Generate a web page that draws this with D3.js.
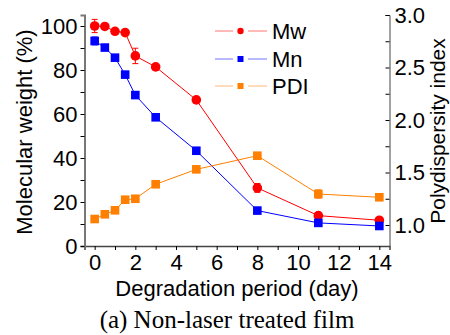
<!DOCTYPE html>
<html>
<head>
  <title>Degradation</title>
  <script src="https://d3js.org/d3.v7.min.js"></script>
  <style>
    body { margin: 0; background: #fff; }
    text { font-family: Arial, "Liberation Sans", sans-serif; fill: #000; }
  </style>
</head>
<body>
  <script>
    // degradation days
    const days = [0, 0.5, 1, 1.5, 2, 3, 5, 8, 11, 14];
    const mw = [100, 99.8, 97.6, 97.0, 86.4, 81.4, 66.4, 26.4, 13.8, 11.7];
    const mwErr = [3, 0, 0, 0.8, 3.5, 1, 0.8, 2, 0.8, 0.6];
    const mn = [93.2, 90.2, 85.6, 77.9, 68.6, 58.5, 43.3, 16.1, 10.5, 9.1];
    const mnErr = [1.8, 0, 0, 0, 0, 1, 0, 0, 0, 0];
    const pdi = [1.057, 1.102, 1.14, 1.241, 1.25, 1.388, 1.53, 1.66, 1.295, 1.264];
    const pdiErr = [0, 0, 0, 0, 0.03, 0, 0, 0.03, 0.04, 0.015];
    const xTicks = [0, 2, 4, 6, 8, 10, 12, 14];
    const leftTicks = [0, 20, 40, 60, 80, 100];
    const rightTicks = [1.0, 1.5, 2.0, 2.5, 3.0];

    const width = 450, height = 335;

    let x = d3.scaleLinear().domain([-0.5, 14.5]).range([84.5, 389.5]);
    let yL = d3.scaleLinear().domain([0, 105]).range([246, 15]);
    let yR = d3.scaleLinear().domain([0.8, 3.0]).range([246, 15]);

    let svg = d3.select("body").append("svg")
      .attr("width", width)
      .attr("height", height);

    // axes
    let xAxis = svg.append("g")
      .attr("transform", "translate(0,246)")
      .call(d3.axisBottom(x).tickValues(d3.range(0, 15, 1)).tickSize(4)
        .tickFormat(d => xTicks.includes(d) ? d : ""));
    xAxis.select(".domain").attr("stroke", "#444").attr("stroke-width", 1.5);
    xAxis.selectAll("text").attr("font-size", "22px").attr("dy", "0.71em").attr("y", 8);

    let lAxis = svg.append("g")
      .attr("transform", "translate(84.5,0)")
      .call(d3.axisLeft(yL).tickValues(d3.range(0, 101, 10)).tickSize(4)
        .tickFormat(d => leftTicks.includes(d) ? d : ""));
    lAxis.select(".domain").attr("stroke", "#777").attr("stroke-width", 2);
    lAxis.selectAll("text").attr("font-size", "22px").attr("x", -7);

    let rAxis = svg.append("g")
      .attr("transform", "translate(389.5,0)")
      .call(d3.axisRight(yR).tickValues([1.0, 1.25, 1.5, 1.75, 2.0, 2.25, 2.5, 2.75, 3.0]).tickSize(-4)
        .tickFormat(d => rightTicks.includes(d) ? d3.format(".1f")(d) : ""));
    rAxis.select(".domain").attr("stroke", "#444").attr("stroke-width", 1);
    rAxis.selectAll("text").attr("font-size", "22px").attr("x", 5);

    // titles
    svg.append("text")
      .attr("transform", "translate(32,132) rotate(-90)")
      .attr("text-anchor", "middle")
      .attr("font-size", "22px")
      .text("Molecular weight (%)");

    svg.append("text")
      .attr("transform", "translate(445,131) rotate(-90)")
      .attr("text-anchor", "middle")
      .attr("font-size", "21px")
      .text("Polydispersity index");

    svg.append("text")
      .attr("x", 237).attr("y", 296)
      .attr("text-anchor", "middle")
      .attr("font-size", "22px")
      .text("Degradation period (day)");

    svg.append("text")
      .attr("x", 227).attr("y", 328)
      .attr("text-anchor", "middle")
      .attr("font-size", "25px")
      .style("font-family", "'Liberation Serif', 'Times New Roman', serif")
      .text("(a) Non-laser treated film");

    // series
    const series = [
      { name: "Mw", vals: mw, err: mwErr, y: yL, color: "#ff0000", shape: "circle" },
      { name: "Mn", vals: mn, err: mnErr, y: yL, color: "#0000ff", shape: "square" },
      { name: "PDI", vals: pdi, err: pdiErr, y: yR, color: "#ff7f00", shape: "square" }
    ];

    series.forEach(s => {
      let pts = days.map((d, i) => ({ d: d, v: s.vals[i], e: s.err[i] }));
      let line = d3.line().x(p => x(p.d)).y(p => s.y(p.v));
      let g = svg.append("g");
      g.append("path").datum(pts)
        .attr("d", line)
        .attr("fill", "none")
        .attr("stroke", s.color)
        .attr("stroke-width", 1);

      // error bars
      let eb = g.selectAll(".eb").data(pts.filter(p => p.e > 0)).enter().append("g");
      eb.append("line")
        .attr("x1", p => x(p.d)).attr("x2", p => x(p.d))
        .attr("y1", p => s.y(p.v - p.e)).attr("y2", p => s.y(p.v + p.e))
        .attr("stroke", s.color);
      [1, -1].forEach(sg => {
        eb.append("line")
          .attr("x1", p => x(p.d) - 3).attr("x2", p => x(p.d) + 3)
          .attr("y1", p => s.y(p.v + sg * p.e)).attr("y2", p => s.y(p.v + sg * p.e))
          .attr("stroke", s.color);
      });

      if (s.shape === "circle") {
        g.selectAll("circle").data(pts).enter().append("circle")
          .attr("cx", p => x(p.d)).attr("cy", p => s.y(p.v))
          .attr("r", 4.8).attr("fill", s.color);
      } else {
        g.selectAll("rect").data(pts).enter().append("rect")
          .attr("x", p => x(p.d) - 4.3).attr("y", p => s.y(p.v) - 4.3)
          .attr("width", 8.6).attr("height", 8.6).attr("fill", s.color);
      }
    });

    // legend
    let legend = svg.selectAll(".leg").data(series).enter().append("g")
      .attr("transform", (s, i) => "translate(0," + [31, 59, 86][i] + ")");
    legend.append("line")
      .attr("x1", 215).attr("x2", 267).attr("y1", 0).attr("y2", 0)
      .attr("stroke", s => s.color).attr("stroke-opacity", 0.55);
    legend.append("rect")
      .attr("x", 233).attr("y", -4).attr("width", 15).attr("height", 8).attr("fill", "#fff");
    legend.each(function(s) {
      let g = d3.select(this);
      if (s.shape === "circle") {
        g.append("circle").attr("cx", 240.5).attr("cy", 0).attr("r", 3.2).attr("fill", s.color);
      } else {
        g.append("rect").attr("x", 237.5).attr("y", -3).attr("width", 6).attr("height", 6).attr("fill", s.color);
      }
    });
    legend.append("text")
      .attr("x", 272).attr("y", 0).attr("dy", "0.36em")
      .attr("font-size", "22px")
      .text(s => s.name);
  </script>
</body>
</html>
